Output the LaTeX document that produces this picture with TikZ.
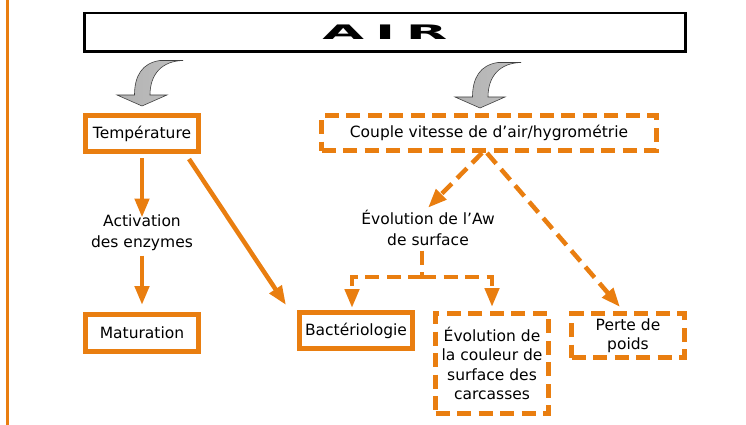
\documentclass[tikz,border=0pt]{standalone}
\usepackage{fontspec}
\setmainfont{DejaVu Sans}
\usetikzlibrary{arrows.meta}
\definecolor{orng}{RGB}{233,126,16}

\begin{document}
\begin{tikzpicture}[x=1pt,y=-1pt]
\tikzstyle{every node}=[font=\fontsize{15.5}{20}\selectfont,align=center,inner sep=2pt]
\tikzstyle{plainbox}=[draw=orng,line width=5pt,minimum width=113pt]
\tikzstyle{dashbox}=[plainbox,dash pattern=on 14pt off 7.5pt]
\tikzstyle{plainarrow}=[draw=orng,line width=4.5pt,-{Triangle[length=19pt,width=14pt]}]
\tikzstyle{dasharrow}=[plainarrow,dash pattern=on 14pt off 7.5pt]
\tikzstyle{dashline}=[draw=orng,line width=4.5pt,dash pattern=on 14pt off 7.5pt]
\tikzset{bentarrow/.pic={
  \draw[black!75,line width=0.6pt,left color=gray!60,middle color=white,right color=gray!50]
    (0,0) -- (25,-11) -- (8,-11) .. controls (8,-32) and (20,-45) .. (41,-45.5)
    -- (18,-45.5) .. controls (0,-43) and (-7.5,-30) .. (-7.5,-11) -- (-25,-11) -- cycle;
}}
\useasboundingbox (0,0) rectangle (746,425);
\draw[orng,line width=2.5pt] (7.3,0) -- (7.3,425);

\node[draw=black,line width=2.5pt,minimum width=601pt,minimum height=38.5pt,font=\fontsize{20}{20}\bfseries](air) at (385,32.3)
  {\scalebox{2.7}[1]{A\hspace{4pt}I\hspace{4pt}R}};

\node[plainbox,minimum height=36pt](temp) at (142,133.5) {Température};
\node[dashbox,minimum width=335pt,minimum height=35pt](couple) at (489,133) {Couple vitesse de d’air/hygrométrie};
\node[font=\fontsize{15.5}{20.7}\selectfont](act) at (142,232.6) {Activation\\des enzymes};
\node[plainbox,minimum height=37pt](mat) at (142,333) {Maturation};
\node[font=\fontsize{15.5}{21.5}\selectfont](aw) at (428,228) {Évolution de l’Aw\\de surface};
\node[plainbox,minimum height=36pt](bact) at (356,330.5) {Bactériologie};
\node[dashbox,minimum height=100pt,font=\fontsize{15.5}{19.5}\selectfont](coul) at (492,363.5) {Évolution de\\la couleur de\\surface des\\carcasses};
\node[dashbox,minimum height=44pt,font=\fontsize{15.5}{18.5}\selectfont](perte) at (628,335.5) {Perte de\\poids};
\coordinate (fork) at (422,277);

\pic at ([shift={(0,-7)}]temp.north) {bentarrow};
\pic at ([shift={(-9,-5)}]couple.north) {bentarrow};

\path (temp) edge[plainarrow,shorten <=4pt,shorten >=-5pt] (act)
      (act) edge[plainarrow,shorten <=3pt,shorten >=7pt] (mat)
      ([shift={(-12,5)}]temp.south east) edge[plainarrow] ([shift={(-11,-5)}]bact.north west)
      ([shift={(-7,0)}]couple.south) edge[dasharrow] (aw.north)
      ([shift={(-2,0)}]couple.south) edge[dasharrow] ([shift={(-8,-4)}]perte.north); % dashed edges

\draw[dashline,shorten <=2.5pt] (aw.south -| fork) -- (fork);
\draw[dasharrow] (fork) -| ([shift={(-4,-2)}]bact.north);
\draw[dasharrow] (fork) -| ([shift={(0,-4)}]coul.north);

\end{tikzpicture}
\end{document}
